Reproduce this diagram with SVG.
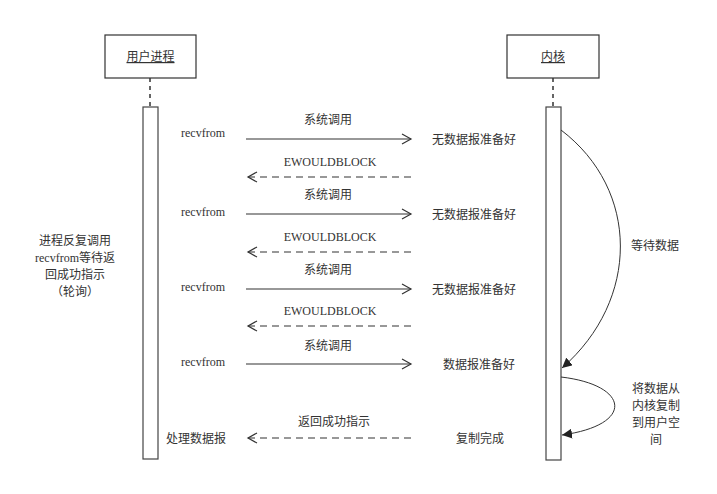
<svg xmlns="http://www.w3.org/2000/svg" width="717" height="494" viewBox="0 0 717 494">
<style>
text{font-family:"Liberation Serif","Noto Sans CJK SC",serif;font-size:12px;fill:#333;}
.c{text-anchor:middle;}
.box{fill:#fff;stroke:#333;stroke-width:1.2;}
.life{fill:#fff;stroke:#444;stroke-width:1.2;}
.dash{stroke:#333;stroke-width:1.5;stroke-dasharray:4,4;fill:none;}
.msg{stroke:#333;stroke-width:1.2;fill:none;}
.ret{stroke:#333;stroke-width:1.2;fill:none;stroke-dasharray:7,5;}
.curve{stroke:#333;stroke-width:1;fill:none;}
</style>
<defs>
<marker id="open" markerWidth="12" markerHeight="12" refX="10" refY="6" orient="auto" markerUnits="userSpaceOnUse">
<path d="M1,1 L10,6 L1,11" fill="none" stroke="#333" stroke-width="1.2"/>
</marker>
<marker id="solid" markerWidth="12" markerHeight="10" refX="10" refY="5" orient="auto" markerUnits="userSpaceOnUse">
<path d="M0,0 L10,5 L0,10 Z" fill="#222"/>
</marker>
</defs>
<g id="user">
<rect class="box" x="105" y="35" width="91" height="43"/>
<text class="c" x="150.5" y="61" text-decoration="underline">用户进程</text>
<line class="dash" x1="150" y1="78" x2="150" y2="107"/>
<rect class="life" x="143" y="107" width="15" height="352"/>
</g>
<g id="kernel">
<rect class="box" x="507" y="35" width="92" height="43"/>
<text class="c" x="553" y="61" text-decoration="underline">内核</text>
<line class="dash" x1="553" y1="78" x2="553" y2="107"/>
<rect class="life" x="546" y="107" width="15" height="353"/>
</g>
<g id="connectors">
<line class="msg" x1="246" y1="139" x2="411" y2="139" marker-end="url(#open)"/>
<line class="ret" x1="411" y1="177" x2="248" y2="177" marker-end="url(#open)"/>
<line class="msg" x1="246" y1="214" x2="411" y2="214" marker-end="url(#open)"/>
<line class="ret" x1="411" y1="252" x2="248" y2="252" marker-end="url(#open)"/>
<line class="msg" x1="246" y1="289" x2="411" y2="289" marker-end="url(#open)"/>
<line class="ret" x1="411" y1="326" x2="248" y2="326" marker-end="url(#open)"/>
<line class="msg" x1="246" y1="364" x2="411" y2="364" marker-end="url(#open)"/>
<line class="ret" x1="411" y1="438" x2="248" y2="438" marker-end="url(#open)"/>
<path class="curve" d="M561,130 C640,190 640,300 562,368" marker-end="url(#solid)"/>
<path class="curve" d="M561,377 C630,385 635,425 562,435" marker-end="url(#solid)"/>
</g>
<g id="labels">
<text x="181" y="137">recvfrom</text>
<text class="c" x="328" y="124">系统调用</text>
<text x="432" y="144">无数据报准备好</text>
<text class="c" x="330" y="166">EWOULDBLOCK</text>
<text x="181" y="216">recvfrom</text>
<text class="c" x="328" y="199">系统调用</text>
<text x="432" y="219">无数据报准备好</text>
<text class="c" x="330" y="241">EWOULDBLOCK</text>
<text x="181" y="291">recvfrom</text>
<text class="c" x="328" y="274">系统调用</text>
<text x="432" y="294">无数据报准备好</text>
<text class="c" x="330" y="315">EWOULDBLOCK</text>
<text x="181" y="366">recvfrom</text>
<text class="c" x="328" y="350">系统调用</text>
<text x="443" y="369">数据报准备好</text>
<text class="c" x="334" y="426">返回成功指示</text>
<text x="166" y="443">处理数据报</text>
<text x="456" y="443">复制完成</text>
<text class="c" x="75" y="245">进程反复调用</text>
<text class="c" x="75" y="262">recvfrom等待返</text>
<text class="c" x="75" y="279">回成功指示</text>
<text class="c" x="75" y="296">（轮询）</text>
<text x="631" y="250">等待数据</text>
<text class="c" x="656" y="393">将数据从</text>
<text class="c" x="656" y="410">内核复制</text>
<text class="c" x="656" y="427">到用户空</text>
<text class="c" x="656" y="444">间</text>
</g>
</svg>
